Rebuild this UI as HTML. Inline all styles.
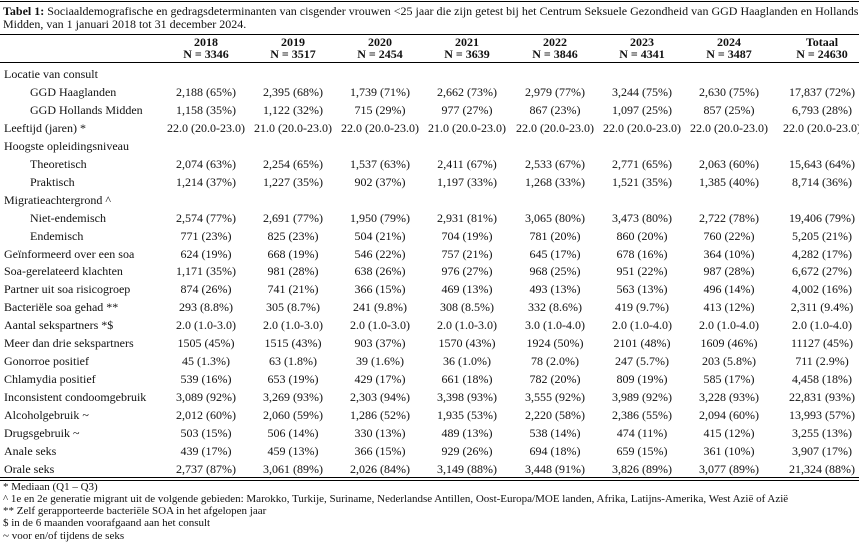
<!DOCTYPE html>
<html><head><meta charset="utf-8">
<style>
body{margin:0;background:#fff;width:859px;height:549px;position:relative;overflow:hidden;font-family:"Liberation Serif","Times New Roman",serif;font-size:12px;color:#111}
.a{position:absolute;white-space:nowrap}
.t{left:3px;font-size:12px;line-height:13px}
.hl{position:absolute;left:0;width:859px;height:1px;background:#000}
.c{position:absolute;width:90px;text-align:center;white-space:nowrap;line-height:18px}
.h{font-weight:bold;line-height:12px}
.l{position:absolute;left:4px;line-height:18px;white-space:nowrap}
.i{left:30px}
.f{position:absolute;left:3px;font-size:11px;line-height:12px;white-space:nowrap}
</style></head><body>
<div class="hl" style="top:1px"></div>
<div class="a t" style="top:5px"><b>Tabel 1:</b> Sociaaldemografische en gedragsdeterminanten van cisgender vrouwen &lt;25 jaar die zijn getest bij het Centrum Seksuele Gezondheid van GGD Haaglanden en Hollands</div>
<div class="a t" style="top:18px">Midden, van 1 januari 2018 tot 31 december 2024.</div>
<div class="hl" style="top:34px"></div>
<div class="hl" style="top:62px"></div>
<div id="g"></div>
<div class="hl" style="top:477px"></div>
<div class="hl" style="top:480px"></div>
<div class="f" style="top:481px">* Mediaan (Q1 – Q3)</div>
<div class="f" style="top:493px">^ 1e en 2e generatie migrant uit de volgende gebieden: Marokko, Turkije, Suriname, Nederlandse Antillen, Oost-Europa/MOE landen, Afrika, Latijns-Amerika, West Azië of Azië</div>
<div class="f" style="top:505px">** Zelf gerapporteerde bacteriële SOA in het afgelopen jaar</div>
<div class="f" style="top:517px">$ in de 6 maanden voorafgaand aan het consult</div>
<div class="f" style="top:530px">~ voor en/of tijdens de seks</div>
<script>
var cx=[206,293,380,467,555,642,729,822];
var hd=[["2018","3346"],["2019","3517"],["2020","2454"],["2021","3639"],["2022","3846"],["2023","4341"],["2024","3487"],["Totaal","24630"]];
var rows=[
["Locatie van consult",0,[]],
["GGD Haaglanden",1,["2,188 (65%)","2,395 (68%)","1,739 (71%)","2,662 (73%)","2,979 (77%)","3,244 (75%)","2,630 (75%)","17,837 (72%)"]],
["GGD Hollands Midden",1,["1,158 (35%)","1,122 (32%)","715 (29%)","977 (27%)","867 (23%)","1,097 (25%)","857 (25%)","6,793 (28%)"]],
["Leeftijd (jaren) *",0,["22.0 (20.0-23.0)","21.0 (20.0-23.0)","22.0 (20.0-23.0)","21.0 (20.0-23.0)","22.0 (20.0-23.0)","22.0 (20.0-23.0)","22.0 (20.0-23.0)","22.0 (20.0-23.0)"]],
["Hoogste opleidingsniveau",0,[]],
["Theoretisch",1,["2,074 (63%)","2,254 (65%)","1,537 (63%)","2,411 (67%)","2,533 (67%)","2,771 (65%)","2,063 (60%)","15,643 (64%)"]],
["Praktisch",1,["1,214 (37%)","1,227 (35%)","902 (37%)","1,197 (33%)","1,268 (33%)","1,521 (35%)","1,385 (40%)","8,714 (36%)"]],
["Migratieachtergrond ^",0,[]],
["Niet-endemisch",1,["2,574 (77%)","2,691 (77%)","1,950 (79%)","2,931 (81%)","3,065 (80%)","3,473 (80%)","2,722 (78%)","19,406 (79%)"]],
["Endemisch",1,["771 (23%)","825 (23%)","504 (21%)","704 (19%)","781 (20%)","860 (20%)","760 (22%)","5,205 (21%)"]],
["Geïnformeerd over een soa",0,["624 (19%)","668 (19%)","546 (22%)","757 (21%)","645 (17%)","678 (16%)","364 (10%)","4,282 (17%)"]],
["Soa-gerelateerd klachten",0,["1,171 (35%)","981 (28%)","638 (26%)","976 (27%)","968 (25%)","951 (22%)","987 (28%)","6,672 (27%)"]],
["Partner uit soa risicogroep",0,["874 (26%)","741 (21%)","366 (15%)","469 (13%)","493 (13%)","563 (13%)","496 (14%)","4,002 (16%)"]],
["Bacteriële soa gehad **",0,["293 (8.8%)","305 (8.7%)","241 (9.8%)","308 (8.5%)","332 (8.6%)","419 (9.7%)","413 (12%)","2,311 (9.4%)"]],
["Aantal sekspartners *$",0,["2.0 (1.0-3.0)","2.0 (1.0-3.0)","2.0 (1.0-3.0)","2.0 (1.0-3.0)","3.0 (1.0-4.0)","2.0 (1.0-4.0)","2.0 (1.0-4.0)","2.0 (1.0-4.0)"]],
["Meer dan drie sekspartners",0,["1505 (45%)","1515 (43%)","903 (37%)","1570 (43%)","1924 (50%)","2101 (48%)","1609 (46%)","11127 (45%)"]],
["Gonorroe positief",0,["45 (1.3%)","63 (1.8%)","39 (1.6%)","36 (1.0%)","78 (2.0%)","247 (5.7%)","203 (5.8%)","711 (2.9%)"]],
["Chlamydia positief",0,["539 (16%)","653 (19%)","429 (17%)","661 (18%)","782 (20%)","809 (19%)","585 (17%)","4,458 (18%)"]],
["Inconsistent condoomgebruik",0,["3,089 (92%)","3,269 (93%)","2,303 (94%)","3,398 (93%)","3,555 (92%)","3,989 (92%)","3,228 (93%)","22,831 (93%)"]],
["Alcoholgebruik ~",0,["2,012 (60%)","2,060 (59%)","1,286 (52%)","1,935 (53%)","2,220 (58%)","2,386 (55%)","2,094 (60%)","13,993 (57%)"]],
["Drugsgebruik ~",0,["503 (15%)","506 (14%)","330 (13%)","489 (13%)","538 (14%)","474 (11%)","415 (12%)","3,255 (13%)"]],
["Anale seks",0,["439 (17%)","459 (13%)","366 (15%)","929 (26%)","694 (18%)","659 (15%)","361 (10%)","3,907 (17%)"]],
["Orale seks",0,["2,737 (87%)","3,061 (89%)","2,026 (84%)","3,149 (88%)","3,448 (91%)","3,826 (89%)","3,077 (89%)","21,324 (88%)"]]
];
var h="";
for(var k=0;k<8;k++){
 h+='<div class="c h" style="left:'+(cx[k]-45)+'px;top:36px">'+hd[k][0]+'</div>';
 h+='<div class="c h" style="left:'+(cx[k]-45)+'px;top:48px">N = '+hd[k][1]+'</div>';
}
for(var r=0;r<rows.length;r++){
 var y=Math.round(74+r*17.95-9);
 h+='<div class="l'+(rows[r][1]?' i':'')+'" style="top:'+y+'px">'+rows[r][0]+'</div>';
 var v=rows[r][2];
 for(var k=0;k<v.length;k++) h+='<div class="c" style="left:'+(cx[k]-45)+'px;top:'+y+'px">'+v[k]+'</div>';
}
document.getElementById("g").innerHTML=h;
</script>
</body></html>
